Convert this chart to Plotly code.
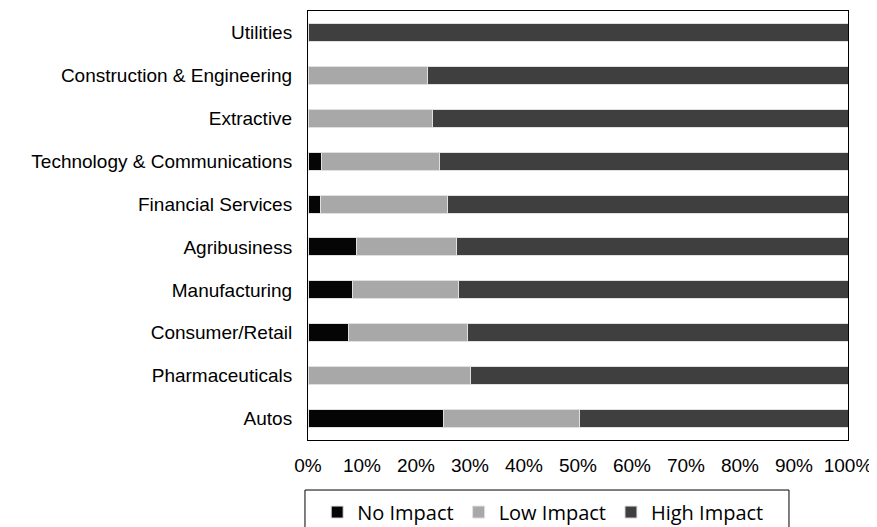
import plotly.graph_objects as go

SECTORS = ["Utilities", "Construction & Engineering", "Extractive",
           "Technology & Communications", "Financial Services", "Agribusiness",
           "Manufacturing", "Consumer/Retail", "Pharmaceuticals", "Autos"]

NO_IMPACT = [0, 0, 0, 2.5, 2.3, 9.0, 8.2, 7.5, 0, 25.0]
LOW_IMPACT = [0, 22.2, 23.0, 21.8, 23.5, 18.5, 19.6, 22.0, 30.0, 25.2]
HIGH_IMPACT = [100, 77.8, 77.0, 75.7, 74.2, 72.5, 72.2, 70.5, 70.0, 49.8]

SERIES = [
    ("No Impact", NO_IMPACT, "#050505"),
    ("Low Impact", LOW_IMPACT, "#a8a8a8"),
    ("High Impact", HIGH_IMPACT, "#3f3f3f"),
]

fig = go.Figure()
for name, vals, color in SERIES:
    fig.add_trace(go.Bar(
        y=SECTORS, x=vals, name=name, orientation="h",
        marker=dict(color=color, line=dict(color="#e0e0e0", width=1)),
    ))

# legend frame (open at the bottom edge, like the source)
fig.add_shape(type="rect", xref="paper", yref="paper",
              x0=-0.0056, x1=0.8907, y0=-0.25, y1=-0.1166,
              line=dict(color="black", width=1))

# the page body adds 8px around the figure
fig.update_layout(
    barmode="stack",
    bargap=0.58,
    width=869, height=519,
    margin=dict(l=300, r=29, t=3, b=87, autoexpand=False),
    paper_bgcolor="white",
    plot_bgcolor="white",
    font=dict(family="Liberation Sans, Arial, sans-serif", size=19, color="black"),
    legend=dict(
        orientation="h",
        x=0.017, xanchor="left",
        y=-0.168, yanchor="middle",
        borderwidth=0,
        font=dict(family="Open Sans, sans-serif", size=20),
        traceorder="normal",
    ),
)
fig.update_xaxes(
    range=[0, 100], tickvals=list(range(0, 101, 10)),
    ticktext=[f"{v}%" for v in range(0, 101, 10)],
    showgrid=False, zeroline=False,
    showline=True, linecolor="black", linewidth=1, mirror=True,
    ticks="", ticklabelstandoff=8,
)
fig.update_yaxes(
    autorange="reversed",
    showgrid=False, zeroline=False,
    showline=True, linecolor="black", linewidth=1, mirror=True,
    ticks="", ticklabelstandoff=11,
)

fig.write_html("out.html")
